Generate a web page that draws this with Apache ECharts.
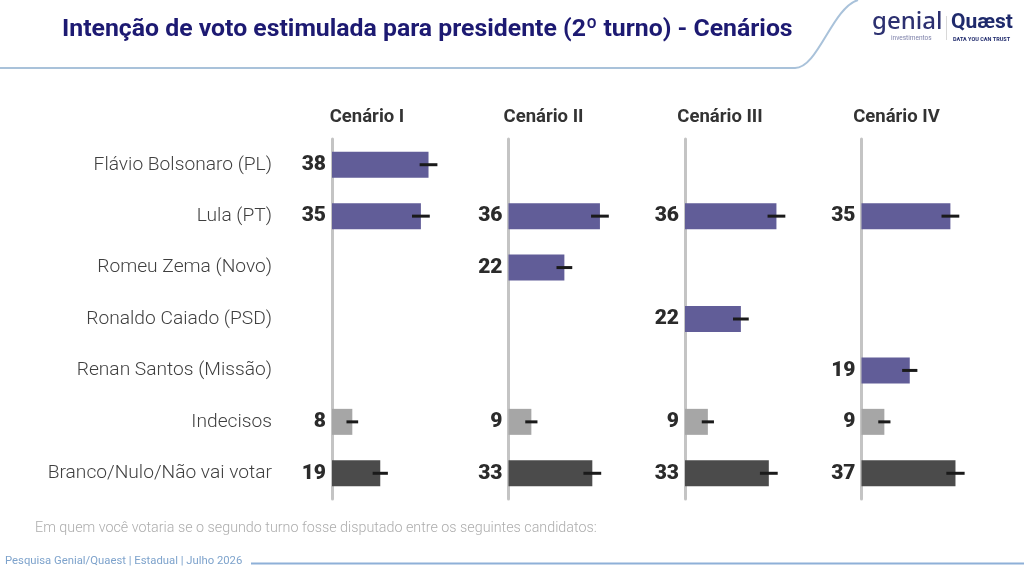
<!DOCTYPE html>
<html><head><meta charset="utf-8">
<script src="https://cdn.jsdelivr.net/npm/echarts@6/dist/echarts.min.js"></script>
<style>html,body{margin:0;padding:0;background:#fff}#c{width:1024px;height:574px}</style>
</head><body><div id="c"></div>
<script>
const categories = ['Flávio Bolsonaro (PL)', 'Lula (PT)', 'Romeu Zema (Novo)', 'Ronaldo Caiado (PSD)', 'Renan Santos (Missão)', 'Indecisos', 'Branco/Nulo/Não vai votar'];
const scenarios = ['Cenário I', 'Cenário II', 'Cenário III', 'Cenário IV'];
const cen1 = [38, 35, null, null, null, 8, 19];
const cen2 = [null, 36, 22, null, null, 9, 33];
const cen3 = [null, 36, null, 22, null, 9, 33];
const cen4 = [null, 35, null, null, 19, 9, 37];
const err1 = [3.5, 3.5, null, null, null, 2.3, 3.0];
const err2 = [null, 3.5, 3.1, null, null, 2.4, 3.5];
const err3 = [null, 3.5, null, 3.1, null, 2.4, 3.5];
const err4 = [null, 3.5, null, null, 3.0, 2.4, 3.6];
const mainTitle = 'Intenção de voto estimulada para presidente (2º turno) - Cenários';
const note = 'Em quem você votaria se o segundo turno fosse disputado entre os seguintes candidatos:';
const footer = 'Pesquisa Genial/Quaest | Estadual | Julho 2026';

const values = [cen1, cen2, cen3, cen4];
const errs = [err1, err2, err3, err4];
const rowColor = i => i === 5 ? '#a6a6a6' : (i === 6 ? '#4b4b4b' : '#615d98');
const panelLeft = [332, 508.5, 685, 861.5];
const FONT = 'Roboto';

const chart = echarts.init(document.getElementById('c'), null, {renderer: 'canvas'});
const grids = [], xAxes = [], yAxes = [], series = [], titles = [];
titles.push({text: mainTitle, left: 62, top: 17, padding: 0, textStyle: {fontFamily: FONT, fontSize: 24.8, fontWeight: 'bold', color: '#1d1a72'}});
panelLeft.forEach((l, k) => {
  grids.push({left: l, top: 139, width: 127, height: 360});
  xAxes.push({type: 'value', gridIndex: k, min: 0, max: 50, show: false});
  yAxes.push({type: 'category', gridIndex: k, data: categories, inverse: true, offset: 1.5,
    axisLine: {show: true, lineStyle: {color: '#c4c4c4', width: 3}},
    axisTick: {show: false},
    axisLabel: {show: k === 0, margin: 58.5, fontFamily: FONT, fontSize: 19.2, fontWeight: 300, color: '#3f3f3f'}});
  titles.push({text: scenarios[k], left: l + 30, top: 103, textAlign: 'center',
    textStyle: {fontFamily: FONT, fontSize: 18.5, fontWeight: 'bold', color: '#333'}});
  series.push({type: 'bar', xAxisIndex: k, yAxisIndex: k, barWidth: 26,
    data: values[k].map((v, i) => v == null ? null : {value: v, itemStyle: {color: rowColor(i)}}),
    label: {show: true, position: 'left', distance: 6, formatter: '{c}', fontFamily: FONT, fontSize: 21, fontWeight: 900, color: '#2b2b2b'}});
  const ed = [];
  values[k].forEach((v, i) => { if (v != null) ed.push([v, i, errs[k][i]]); });
  series.push({type: 'custom', xAxisIndex: k, yAxisIndex: k, z: 5, data: ed, encode: {x: 0, y: 1},
    renderItem: (params, api) => {
      const v = api.value(0), c = api.value(1), m = api.value(2);
      const p1 = api.coord([v - m, c]), p2 = api.coord([v + m, c]);
      return {type: 'line', shape: {x1: p1[0], y1: p1[1], x2: p2[0], y2: p2[1]}, style: {stroke: '#1a1a1a', lineWidth: 3}};
    }});
});

const graphic = [
  {type: 'line', shape: {x1: 0, y1: 68, x2: 795, y2: 68}, style: {stroke: '#a9c2da', lineWidth: 2}},
  {type: 'bezierCurve', shape: {x1: 795, y1: 68, cpx1: 818, cpy1: 68, cpx2: 832, cpy2: 8, x2: 858, y2: 0}, style: {fill: null, stroke: '#a9c2da', lineWidth: 2}},
  {type: 'text', left: 872, top: 10, style: {text: 'genial', fontFamily: 'Noto Sans', fontSize: 24, fontWeight: 500, fill: '#2c3070'}},
  {type: 'text', left: 891, top: 35, style: {text: 'investimentos', fontFamily: FONT, fontSize: 6.5, fill: '#7e82aa'}},
  {type: 'line', shape: {x1: 946.5, y1: 16, x2: 946.5, y2: 40}, style: {stroke: '#d8d8d8', lineWidth: 1}},
  {type: 'text', left: 951, top: 12, style: {text: 'Quæst', fontFamily: FONT, fontSize: 21, fontWeight: 'bold', fill: '#1f2a6c'}},
  {type: 'text', left: 953, top: 37, style: {text: 'DATA YOU CAN TRUST', fontFamily: FONT, fontSize: 5.5, fontWeight: 'bold', fill: '#1f2a6c'}},
  {type: 'text', left: 35, top: 521, style: {text: note, fontFamily: FONT, fontSize: 14.3, fontWeight: 300, fill: '#adadad'}},
  {type: 'text', left: 5, top: 556, style: {text: footer, fontFamily: FONT, fontSize: 11.3, fill: '#7ea3cc'}},
  {type: 'line', shape: {x1: 251, y1: 563.5, x2: 1024, y2: 563.5}, style: {stroke: '#8eb0d8', lineWidth: 2}}
];

chart.setOption({animation: false, backgroundColor: '#fff', title: titles, grid: grids, xAxis: xAxes, yAxis: yAxes, series: series, graphic: graphic});
</script></body></html>
